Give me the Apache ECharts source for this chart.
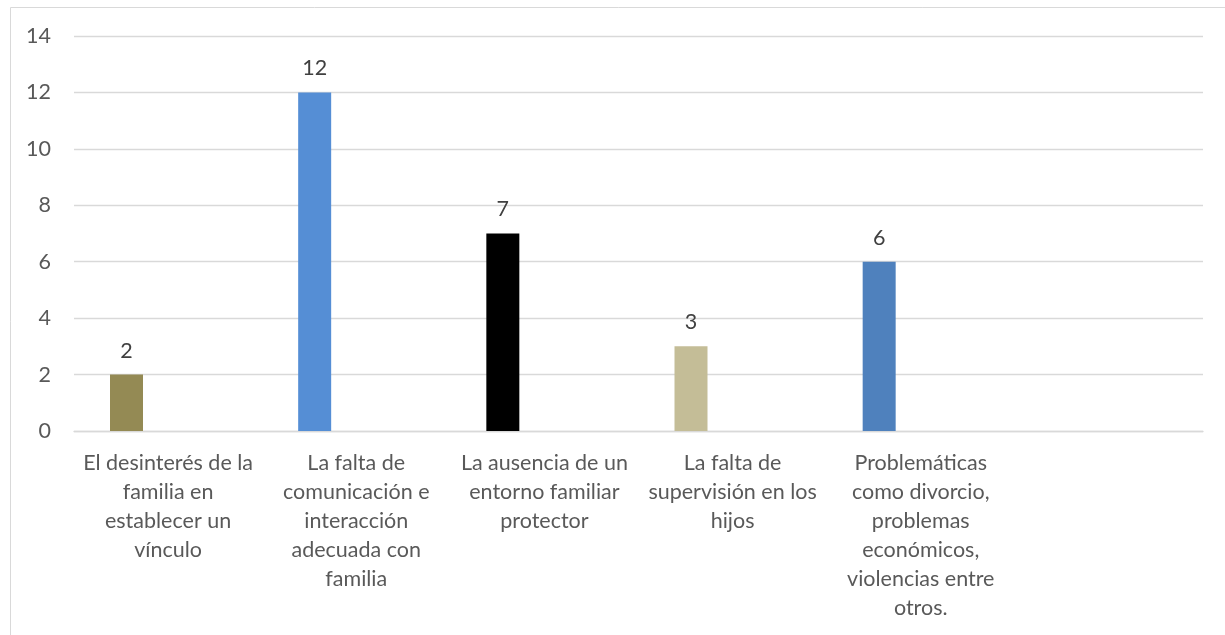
<!DOCTYPE html>
<html><head><meta charset="utf-8">
<script src="https://cdn.jsdelivr.net/npm/echarts@6/dist/echarts.min.js"></script>
<style>html,body{margin:0;padding:0;background:#fff}#c{width:1225px;height:635px}</style>
</head><body><div id="c"></div>
<script>
const categories = [
  'El desinterés de la\nfamilia en\nestablecer un\nvínculo',
  'La falta de\ncomunicación e\ninteracción\nadecuada con\nfamilia',
  'La ausencia de un\nentorno familiar\nprotector',
  'La falta de\nsupervisión en los\nhijos',
  'Problemáticas\ncomo divorcio,\nproblemas\neconómicos,\nviolencias entre\notros.',
  ''
];
const values = [2, 12, 7, 3, 6, null];
const barColors = ['#948A54', '#558ED5', '#000000', '#C4BD97', '#4F81BD', '#4F81BD'];
const yTicks = [0, 2, 4, 6, 8, 10, 12, 14];

const font = 'Lato, "Open Sans", sans-serif';
const chart = echarts.init(document.getElementById('c'));
chart.setOption({
  animation: false,
  graphic: [{type:'rect', shape:{x:10.5, y:7.5, width:1300, height:700}, style:{fill:'none', stroke:'#D9D9D9', lineWidth:1}, silent:true}],
  grid: {left: 74, right: 22, top: 36, bottom: 204, containLabel: false},
  xAxis: {
    type: 'category', data: categories,
    axisLine: {show: true, lineStyle: {color: '#D9D9D9', width: 1.3}},
    axisTick: {show: false},
    axisLabel: {color: '#595959', fontSize: 21.5, fontFamily: font, lineHeight: 29, margin: 18, interval: 0}
  },
  yAxis: {
    type: 'value', min: yTicks[0], max: yTicks[yTicks.length-1], interval: 2,
    axisLine: {show: false}, axisTick: {show: false},
    splitLine: {lineStyle: {color: '#D9D9D9', width: 1.3}},
    axisLabel: {color: '#595959', fontSize: 21.5, fontFamily: font, margin: 23}
  },
  series: [
    {
      type: 'bar', barWidth: 33, barGap: '152%',
      data: values.map((v, i) => ({value: v, itemStyle: {color: barColors[i]}})),
      label: {show: true, position: 'top', distance: 13, color: '#404040', fontSize: 21.5, fontFamily: font}
    },
    {type: 'bar', barWidth: 33, data: values.map(() => null)}
  ]
});
</script></body></html>
